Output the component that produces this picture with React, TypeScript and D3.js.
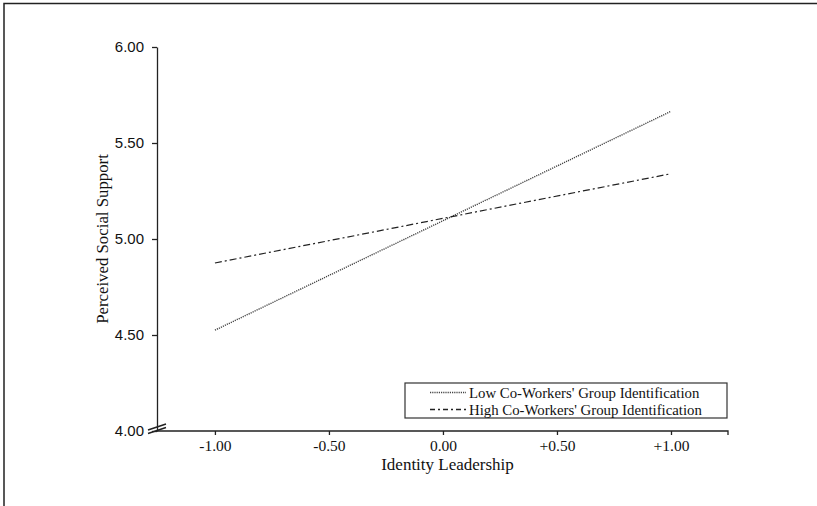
import * as d3 from "d3";
import { useEffect, useRef } from "react";

// values
const xTicks = [-1, -0.5, 0, 0.5, 1];
const yTicks = [4.0, 4.5, 5.0, 5.5, 6.0];
const lowX = [-1, 1];
const lowY = [4.525, 5.665];
const highX = [-1, 1];
const highY = [4.875, 5.34];
const seriesNames = ["Low Co-Workers' Group Identification", "High Co-Workers' Group Identification"];
const dashes = ["1.2,1", "7,3,2,3"];

const W = 817;
const H = 506;

const fmtX = (d: number) => (d > 0 ? "+" : "") + d.toFixed(2);

const App = () => {
    const ref = useRef<SVGSVGElement>(null);

    useEffect(() => {
        const svg = d3.select(ref.current);
        svg.selectAll("*").remove();

        const margin = { top: 47, left: 157, right: 89, bottom: 75 };
        const x = d3.scaleLinear().domain([-1.254, 1.25]).range([margin.left, W - margin.right]);
        const y = d3.scaleLinear().domain([4, 6]).range([H - margin.bottom, margin.top]);

        // outer frame
        svg.append("rect")
            .attr("x", 4).attr("y", 3.5)
            .attr("width", W + 10).attr("height", H + 10)
            .attr("fill", "none").attr("stroke", "#222").attr("stroke-width", 1.5);

        // y axis
        const yAxis = d3.axisLeft(y).tickValues(yTicks).tickSize(5).tickSizeOuter(0).tickFormat(d3.format(".2f"));
        const gy = svg.append("g").attr("transform", `translate(${margin.left},0)`).call(yAxis);
        gy.select(".domain").attr("stroke", "#222").attr("stroke-width", 1.3);
        gy.selectAll(".tick line").attr("stroke", "#222").attr("stroke-width", 1.3);
        gy.selectAll(".tick text")
            .attr("font-family", "Liberation Sans, Arial, sans-serif")
            .attr("font-size", 15).attr("fill", "#111").attr("x", -13).attr("dy", "0.28em");

        // x axis
        const xAxis = d3.axisBottom(x).tickValues(xTicks).tickSize(4).tickSizeOuter(5).tickFormat(d => fmtX(+d));
        const gx = svg.append("g").attr("transform", `translate(0,${y(4)})`).call(xAxis);
        gx.select(".domain").attr("stroke", "#222").attr("stroke-width", 1.3)
            .attr("d", `M${margin.left},0H${W - margin.right}V4`);
        gx.selectAll(".tick line").attr("stroke", "#222").attr("stroke-width", 1.3);
        gx.selectAll(".tick text")
            .attr("font-family", "Liberation Serif, Times New Roman, serif")
            .attr("font-size", 15.5).attr("fill", "#111").attr("y", 9);

        // axis break marks
        [0, 3.5].forEach(off => {
            svg.append("line")
                .attr("x1", margin.left - 9).attr("y1", y(4) + 2.5 - off)
                .attr("x2", margin.left + 9).attr("y2", y(4) - 3.5 - off)
                .attr("stroke", "#222").attr("stroke-width", 1.4);
        });

        // axis titles
        svg.append("text")
            .attr("x", (x(-1.254) + x(1.25)) / 2 + 5).attr("y", 470)
            .attr("text-anchor", "middle")
            .attr("font-family", "Liberation Serif, Times New Roman, serif")
            .attr("font-size", 17).attr("fill", "#111")
            .text("Identity Leadership");
        svg.append("text")
            .attr("transform", `translate(108,${y(5)}) rotate(-90)`)
            .attr("text-anchor", "middle")
            .attr("font-family", "Liberation Serif, Times New Roman, serif")
            .attr("font-size", 16.8).attr("fill", "#111")
            .text("Perceived Social Support");

        // lines
        const line = d3.line<[number, number]>().x(d => x(d[0])).y(d => y(d[1]));
        const series: [number, number][][] = [
            lowX.map((v, i) => [v, lowY[i]]),
            highX.map((v, i) => [v, highY[i]]),
        ];
        series.forEach((s, i) => {
            svg.append("path")
                .attr("d", line(s))
                .attr("fill", "none")
                .attr("stroke", i === 0 ? "#444" : "#222")
                .attr("stroke-width", i === 0 ? 1.4 : 1.2)
                .attr("stroke-dasharray", dashes[i]);
        });

        // legend
        const lg = svg.append("g").attr("transform", "translate(405,383)");
        lg.append("rect")
            .attr("width", 322).attr("height", 35)
            .attr("fill", "white").attr("stroke", "#333").attr("stroke-width", 1.2);
        seriesNames.forEach((name, i) => {
            const ly = 9.5 + i * 17;
            lg.append("line")
                .attr("x1", 25).attr("x2", 61).attr("y1", ly).attr("y2", ly)
                .attr("stroke", i === 0 ? "#444" : "#222")
                .attr("stroke-width", i === 0 ? 1.4 : 1.5)
                .attr("stroke-dasharray", i === 0 ? "1.2,1" : "5,3,2,3");
            lg.append("text")
                .attr("x", 64).attr("y", ly + 5)
                .attr("font-family", "Liberation Serif, Times New Roman, serif")
                .attr("font-size", 14.8).attr("fill", "#111")
                .text(name);
        });
    }, []);

    return (
        <svg ref={ref} width={W} height={H}
            style={{ position: "absolute", left: 0, top: 0, background: "white" }} />
    );
};

export default App;
